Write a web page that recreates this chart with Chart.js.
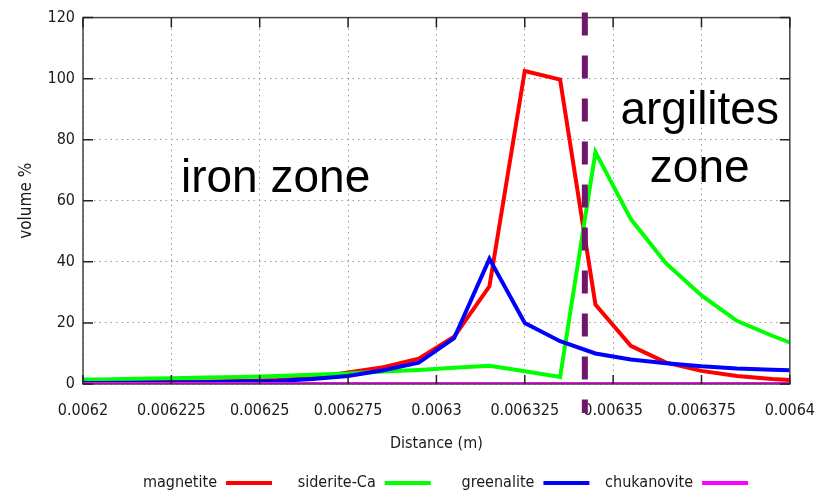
<!DOCTYPE html>
<html>
<head>
<meta charset="utf-8">
<script src="https://cdn.jsdelivr.net/npm/chart.js@4"></script>
<style>
  html, body { margin: 0; padding: 0; background: #fff; }
  #wrap { width: 832px; height: 495px; }
</style>
</head>
<body>
<div id="wrap"><canvas id="chart" width="832" height="495"></canvas></div>
<script>
// distance (m) of each sample
const distance = [0.0062, 0.006205, 0.006215, 0.006225, 0.006235, 0.006245, 0.006255, 0.006265,
  0.006275, 0.006285, 0.006295, 0.006305, 0.006315, 0.006325, 0.006335, 0.006345, 0.006355,
  0.006365, 0.006375, 0.006385, 0.006395, 0.0064];

const magnetite   = [0.5, 0.5, 0.6, 0.7, 0.8, 1.0, 1.3, 2.0, 3.8, 5.5, 8.3, 15.5, 32, 102.5, 99.7, 26, 12.5, 7, 4.3, 2.6, 1.6, 1.3];
const sideriteCa  = [1.5, 1.5, 1.7, 1.9, 2.1, 2.3, 2.6, 3.0, 3.4, 4.1, 4.6, 5.3, 6.0, 4.2, 2.3, 76, 54, 39.5, 29, 20.7, 15.8, 13.6];
const greenalite  = [0.3, 0.3, 0.4, 0.5, 0.6, 0.8, 1.0, 1.6, 2.6, 4.5, 7, 15, 41, 20, 14, 10, 8, 6.8, 5.8, 5.1, 4.7, 4.5];
const chukanovite = [0, 0, 0, 0, 0, 0, 0, 0, 0, 0, 0, 0, 0, 0, 0, 0, 0, 0, 0, 0, 0, 0];

const seriesNames  = ['magnetite', 'siderite-Ca', 'greenalite', 'chukanovite'];
const seriesColors = ['#ff0000', '#00ff00', '#0000ff', '#ff00ff'];

const xTickValues = [0.0062, 0.006225, 0.00625, 0.006275, 0.0063, 0.006325, 0.00635, 0.006375, 0.0064];
const xTickLabels = ['0.0062', '0.006225', '0.00625', '0.006275', '0.0063', '0.006325', '0.00635', '0.006375', '0.0064'];

const boundaryX = 0.006342;   // iron / argilites boundary

const tickFont = { family: '"DejaVu Sans Condensed", "DejaVu Sans", sans-serif', size: 16 };
const textColor = '#1a1a1a';

function toPoints(values) {
    return values.map((v, i) => ({ x: distance[i], y: v }));
}

const allSeries = [magnetite, sideriteCa, greenalite, chukanovite];

const datasets = allSeries.map((values, i) => ({
    label: seriesNames[i],
    data: toPoints(values),
    borderColor: seriesColors[i],
    backgroundColor: seriesColors[i],
    borderWidth: 4,
    pointRadius: 0,
    tension: 0,
    order: allSeries.length - i
}));

// frame, mirrored ticks, zone line, labels, legend
const decorations = {
    id: 'decorations',
    afterDatasetsDraw(chart) {
        const { ctx, chartArea: a, scales: { x, y } } = chart;
        ctx.save();

        // frame
        ctx.strokeStyle = '#444';
        ctx.lineWidth = 1.5;
        ctx.strokeRect(a.left, a.top, a.right - a.left, a.bottom - a.top);

        // inward ticks on all four sides
        ctx.strokeStyle = '#222';
        ctx.beginPath();
        y.ticks.forEach(t => {
            const py = y.getPixelForValue(t.value);
            ctx.moveTo(a.left, py); ctx.lineTo(a.left + 10, py);
            ctx.moveTo(a.right, py); ctx.lineTo(a.right - 10, py);
        });
        x.ticks.forEach(t => {
            const px = x.getPixelForValue(t.value);
            ctx.moveTo(px, a.bottom); ctx.lineTo(px, a.bottom - 9);
            ctx.moveTo(px, a.top); ctx.lineTo(px, a.top + 10);
        });
        ctx.stroke();

        // dashed boundary
        const bx = x.getPixelForValue(boundaryX);
        ctx.strokeStyle = '#70166b';
        ctx.lineWidth = 6;
        ctx.setLineDash([23, 20]);
        ctx.beginPath();
        ctx.moveTo(bx, a.top - 5);
        ctx.lineTo(bx, a.bottom + 29);
        ctx.stroke();
        ctx.setLineDash([]);

        // zone labels
        ctx.fillStyle = '#000';
        ctx.font = '46px "Liberation Sans", Arial, sans-serif';
        ctx.textAlign = 'center';
        ctx.textBaseline = 'alphabetic';
        ctx.fillText('iron zone', x.getPixelForValue(0.0062545), y.getPixelForValue(62.8));
        ctx.fillText('argilites', x.getPixelForValue(0.0063745), y.getPixelForValue(85));
        ctx.fillText('zone', x.getPixelForValue(0.0063745), y.getPixelForValue(66.2));

        // legend: text then line sample
        ctx.font = '16px "DejaVu Sans Condensed", "DejaVu Sans", sans-serif';
        ctx.textAlign = 'right';
        ctx.textBaseline = 'middle';
        const legendY = 483;
        seriesNames.forEach((name, i) => {
            const textEnd = 217 + i * 158.7;
            ctx.fillStyle = textColor;
            ctx.fillText(name, textEnd, legendY);
            ctx.strokeStyle = seriesColors[i];
            ctx.lineWidth = 4;
            ctx.beginPath();
            ctx.moveTo(textEnd + 9, legendY);
            ctx.lineTo(textEnd + 55, legendY);
            ctx.stroke();
        });

        ctx.restore();
    }
};

new Chart(document.getElementById('chart'), {
    type: 'line',
    data: { datasets },
    options: {
        responsive: false,
        animation: false,
        layout: { padding: { left: 0, right: 41, top: 13, bottom: 0 } },
        plugins: {
            legend: { display: false },
            tooltip: { enabled: false }
        },
        scales: {
            x: {
                type: 'linear',
                min: 0.0062,
                max: 0.0064,
                afterBuildTicks: scale => {
                    scale.ticks = xTickValues.map(v => ({ value: v }));
                },
                afterFit: scale => { scale.height = 111; },
                ticks: {
                    callback: (value, index) => xTickLabels[index],
                    font: tickFont,
                    color: textColor,
                    padding: 17,
                    maxRotation: 0,
                    autoSkip: false
                },
                grid: { color: '#999', lineWidth: 1, drawTicks: false },
                border: { display: false, dash: [1.5, 4] },
                title: {
                    display: true,
                    text: 'Distance (m)',
                    font: { family: tickFont.family, size: 16 },
                    color: textColor,
                    padding: { top: 0, bottom: 42 }
                }
            },
            y: {
                min: 0,
                max: 120,
                afterFit: scale => { scale.width = 83; },
                ticks: {
                    stepSize: 20,
                    font: tickFont,
                    color: textColor,
                    padding: 8
                },
                grid: { color: '#999', lineWidth: 1, drawTicks: false },
                border: { display: false, dash: [1.5, 4] },
                title: {
                    display: true,
                    text: 'volume %',
                    font: { family: tickFont.family, size: 17 },
                    color: textColor,
                    padding: { top: 16, bottom: 16 }
                }
            }
        }
    },
    plugins: [decorations]
});
</script>
</body>
</html>
